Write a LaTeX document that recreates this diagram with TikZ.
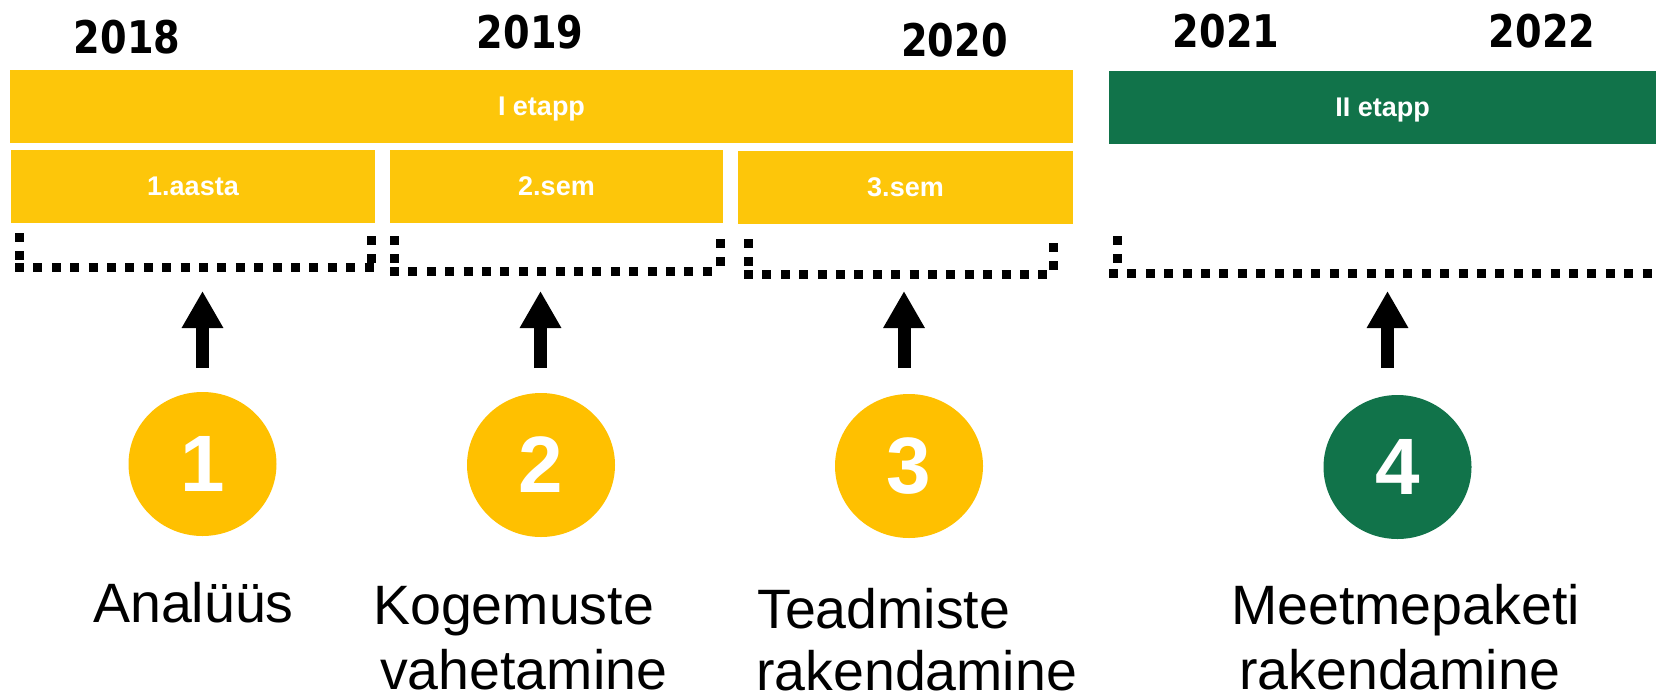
\documentclass[tikz,border=0pt]{standalone}
\usepackage{fontspec}
\setmainfont{Liberation Sans}
\newfontfamily\yearfont{DejaVu Sans}
\usetikzlibrary{arrows.meta,shapes.geometric}
\definecolor{barY}{RGB}{253,198,10}
\definecolor{circY}{RGB}{255,192,0}
\definecolor{grn}{RGB}{17,115,74}
\begin{document}
\begin{tikzpicture}[x=1pt,y=-1pt,
  bar/.style={fill=#1, draw=none, inner sep=0pt, text=white, text depth=0pt,
    font=\fontsize{27}{30}\selectfont\bfseries},
  year/.style={inner sep=0pt, font=\yearfont\bfseries\fontsize{45}{50}\selectfont},
  circ/.style={ellipse, fill=#1, draw=none, minimum width=148pt, minimum height=144pt,
    inner sep=0pt, text=white, font=\bfseries\fontsize{80}{80}\selectfont},
  dots/.style={line width=9pt, dash pattern=on 9pt off 9.4pt},
  blockarrow/.style={line width=13pt, -{Triangle[width=39pt,length=37pt]}},
  lbl/.style={inner sep=0pt, anchor=base west, font=\fontsize{55.5}{64}\selectfont}]
\useasboundingbox (0,0) rectangle (1656,699);

% years
\node[year] (y18) at (127,37) {\scalebox{0.85}[1]{2018}};
\node[year] (y19) at (530,32) {\scalebox{0.85}[1]{2019}};
\node[year] (y20) at (954.5,40) {\scalebox{0.85}[1]{2020}};
\node[year] (y21) at (1226,31.5) {\scalebox{0.85}[1]{2021}};
\node[year] (y22) at (1542,31.5) {\scalebox{0.85}[1]{2022}};

% stage bars
\node[bar=barY, minimum width=1063pt, minimum height=72.5pt] (e1) at (541.5,106.25) {I etapp};
\node[bar=grn, minimum width=547pt, minimum height=73pt] (e2) at (1382.5,107.5) {II etapp};
\node[bar=barY, minimum width=364pt, minimum height=73pt] (s1) at (193,186.5) {1.aasta};
\node[bar=barY, minimum width=333pt, minimum height=73pt] (s2) at (556.5,186.5) {2.sem};
\node[bar=barY, minimum width=335pt, minimum height=73pt] (s3) at (905.5,187.5) {3.sem};

% dotted brackets
\draw[dots] (15,267) -- (374,267);
\draw[dots] (19.5,233) -- (19.5,262.5);
\draw[dots] (371.5,236) -- (371.5,262.5);

\draw[dots] (390,271.2) -- (713,271.2);
\draw[dots] (394.5,236) -- (394.5,267);
\draw[dots] (720,239) -- (720,266);

\draw[dots] (744,274.5) -- (1049,274.5);
\draw[dots] (748,239) -- (748,270);
\draw[dots] (1053,243) -- (1053,270);

\draw[dots] (1109,273) -- (1656,273);
\draw[dots] (1117.5,236) -- (1117.5,268.5);

% circles
\node[circ=circY] (c1) at (202.5,464) {1};
\node[circ=circY] (c2) at (541,465) {2};
\node[circ=circY] (c3) at (909,466) {3};
\node[circ=grn] (c4) at (1397.5,467) {4};

% arrows
\coordinate (b1) at (202.5,368); \coordinate (t1) at (202.5,291);
\coordinate (b2) at (540.5,368); \coordinate (t2) at (540.5,291);
\coordinate (b3) at (904,368); \coordinate (t3) at (904,291);
\coordinate (b4) at (1387.5,368); \coordinate (t4) at (1387.5,291);
\draw[blockarrow] (b1) -- (t1);
\draw[blockarrow] (b2) -- (t2);
\draw[blockarrow] (b3) -- (t3);
\draw[blockarrow] (b4) -- (t4);

% labels
\node[lbl] (l1) at (93,622) {Analüüs};
\node[lbl] (l2a) at (373,624) {Kogemuste};
\node[lbl] (l2b) at (380,689) {vahetamine};
\node[lbl] (l3a) at (757,628) {Teadmiste};
\node[lbl] (l3b) at (756,690) {rakendamine};
\node[lbl] (l4a) at (1231,624) {Meetmepaketi};
\node[lbl] (l4b) at (1239,689) {rakendamine};
\end{tikzpicture}
\end{document}
